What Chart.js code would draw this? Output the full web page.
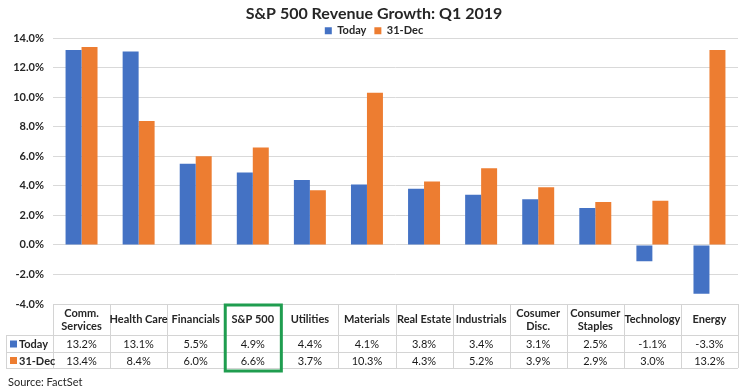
<!DOCTYPE html>
<html lang="en">
<head>
    <meta charset="UTF-8">
    <title>S&amp;P 500 Revenue Growth: Q1 2019</title>
    <script src="https://cdn.jsdelivr.net/npm/chart.js"></script>
    <style>
        body { margin: 0; background: #fff; }
    </style>
</head>
<body>
    <canvas id="chart" width="750" height="392"></canvas>
    <script>
        // data (same numbers as in the table)
        const categories = [['Comm.', 'Services'], 'Health Care', 'Financials', 'S&P 500', 'Utilities', 'Materials',
            'Real Estate', 'Industrials', ['Cosumer', 'Disc.'], ['Consumer', 'Staples'], 'Technology', 'Energy'];
        const todayValues = [13.2, 13.1, 5.5, 4.9, 4.4, 4.1, 3.8, 3.4, 3.1, 2.5, -1.1, -3.3];
        const decValues = [13.4, 8.4, 6.0, 6.6, 3.7, 10.3, 4.3, 5.2, 3.9, 2.9, 3.0, 13.2];
        const seriesNames = ['Today', '31-Dec'];
        const yMin = -4, yMax = 14, yStep = 2;

        const BLUE = '#4472C4';
        const ORANGE = '#ED7D31';
        const FONT = 'Lato, "Open Sans", sans-serif';

        // draws the data table under the plot, lined up with the x scale
        const tablePlugin = {
            id: 'dataTable',
            afterDraw(chart) {
                const ctx = chart.ctx;
                const area = chart.chartArea;
                const x = chart.scales.x;
                const colW = (area.right - area.left) / categories.length;
                const top = area.bottom;
                const headBottom = top + 31;
                const row1Bottom = headBottom + 17;
                const row2Bottom = row1Bottom + 16;
                const labelLeft = 6;

                ctx.save();
                ctx.strokeStyle = '#d4d4d4';
                ctx.lineWidth = 1;
                // horizontal lines
                ctx.beginPath();
                ctx.moveTo(area.left, top + 0.5); ctx.lineTo(area.right, top + 0.5);
                [headBottom, row1Bottom, row2Bottom].forEach(y => {
                    ctx.moveTo(labelLeft, y + 0.5); ctx.lineTo(area.right, y + 0.5);
                });
                // vertical lines
                for (let k = 0; k <= categories.length; k++) {
                    const vx = Math.round(area.left + k * colW) + 0.5;
                    ctx.moveTo(vx, top); ctx.lineTo(vx, row2Bottom);
                }
                ctx.moveTo(labelLeft + 0.5, headBottom); ctx.lineTo(labelLeft + 0.5, row2Bottom);
                ctx.stroke();

                // header
                ctx.fillStyle = '#262626';
                ctx.textAlign = 'center';
                ctx.textBaseline = 'middle';
                ctx.font = 'bold 11px ' + FONT;
                categories.forEach((c, i) => {
                    const cx = x.getPixelForValue(i);
                    const lines = Array.isArray(c) ? c : [c];
                    const midY = (top + headBottom) / 2;
                    lines.forEach((t, j) => {
                        ctx.fillText(t, cx, midY + (j - (lines.length - 1) / 2) * 13);
                    });
                });

                // values
                const rows = [todayValues, decValues];
                const rowMid = [(headBottom + row1Bottom) / 2, (row1Bottom + row2Bottom) / 2];
                const colors = [BLUE, ORANGE];
                rows.forEach((vals, r) => {
                    ctx.font = '11px ' + FONT;
                    ctx.textAlign = 'center';
                    ctx.fillStyle = '#1a1a1a';
                    vals.forEach((v, i) => {
                        ctx.fillText(v.toFixed(1) + '%', x.getPixelForValue(i), rowMid[r] + 1);
                    });
                    ctx.fillStyle = colors[r];
                    ctx.fillRect(labelLeft + 4, rowMid[r] - 3, 7, 7);
                    ctx.fillStyle = '#262626';
                    ctx.font = 'bold 11px ' + FONT;
                    ctx.textAlign = 'left';
                    ctx.fillText(seriesNames[r], labelLeft + 13, rowMid[r] + 1);
                });

                // green box round the S&P 500 column
                const spIdx = 3;
                ctx.strokeStyle = '#1f9d4f';
                ctx.lineWidth = 3;
                const bx = area.left + spIdx * colW;
                ctx.strokeRect(bx + 1, top + 1, colW - 1, row2Bottom - top + 2);

                // source note
                ctx.fillStyle = '#262626';
                ctx.font = '11px ' + FONT;
                ctx.textAlign = 'left';
                ctx.fillText('Source: FactSet', 8, 382);
                ctx.restore();
            }
        };

        new Chart(document.getElementById('chart'), {
            type: 'bar',
            data: {
                labels: categories,
                datasets: [
                    { label: seriesNames[0], data: todayValues, backgroundColor: BLUE },
                    { label: seriesNames[1], data: decValues, backgroundColor: ORANGE }
                ]
            },
            options: {
                responsive: false,
                animation: false,
                devicePixelRatio: 1,
                layout: { autoPadding: false, padding: { left: 10, right: 12, top: 0, bottom: 88 } },
                datasets: { bar: { barPercentage: 1, categoryPercentage: 0.56 } },
                plugins: {
                    title: {
                        display: true,
                        text: 'S&P 500 Revenue Growth: Q1 2019',
                        color: '#262626',
                        font: { family: FONT, size: 16, weight: 'bold' },
                        padding: { top: 4, bottom: -6 }
                    },
                    legend: {
                        maxHeight: 21,
                        labels: {
                            boxWidth: 7, boxHeight: 7, padding: 8,
                            color: '#262626',
                            font: { family: FONT, size: 11, weight: 'bold' }
                        }
                    },
                    tooltip: { enabled: false }
                },
                scales: {
                    x: {
                        grid: { display: false },
                        border: { display: false },
                        ticks: { display: false },
                        afterFit: s => { s.height = 0; }
                    },
                    y: {
                        min: yMin, max: yMax,
                        afterFit: s => { s.width = 43; },
                        border: { display: false },
                        grid: { color: '#d9d9d9', drawTicks: false },
                        ticks: {
                            stepSize: yStep,
                            padding: 9,
                            color: '#262626',
                            font: { family: FONT, size: 11, weight: 'bold' },
                            callback: v => v.toFixed(1) + '%'
                        }
                    }
                }
            },
            plugins: [tablePlugin]
        });
    </script>
</body>
</html>
